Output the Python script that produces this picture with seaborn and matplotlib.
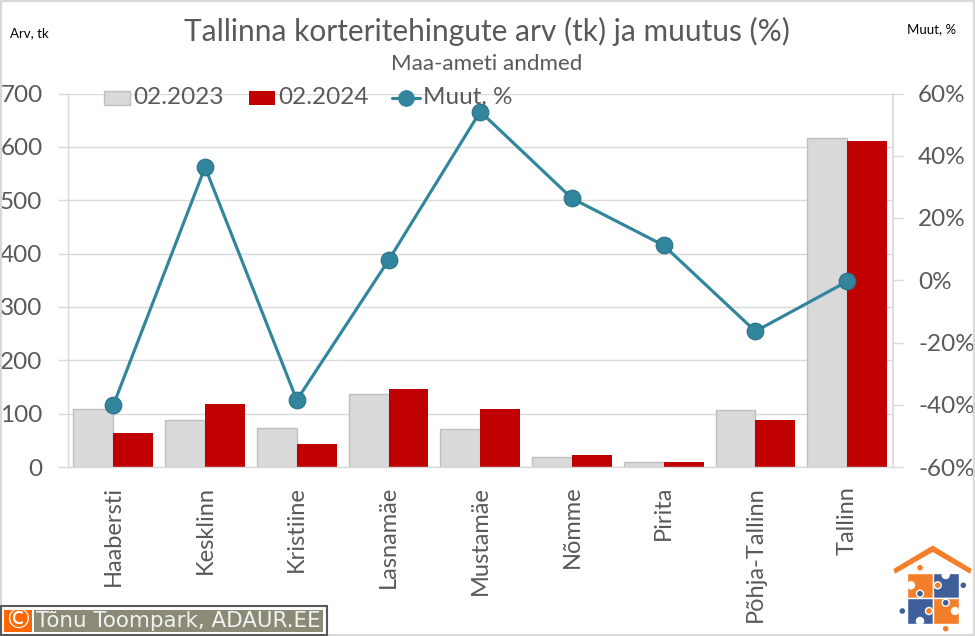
import matplotlib
matplotlib.use("Agg")
import matplotlib.pyplot as plt
from matplotlib.patches import Rectangle, Polygon, Circle
from matplotlib.lines import Line2D
import pandas as pd
import seaborn as sns

categories = ["Haabersti", "Kesklinn", "Kristiine", "Lasnamäe", "Mustamäe", "Nõmme", "Pirita", "Põhja-Tallinn", "Tallinn"]
values_2023 = [109, 89, 74, 137, 72, 19, 10, 107, 617]
values_2024 = [64, 119, 44, 147, 109, 23, 10, 89, 611]
change_pct = [-40.1, 36.3, -38.5, 6.4, 54.2, 26.3, 11.2, -16.4, -0.4]
left_ticks = [0, 100, 200, 300, 400, 500, 600, 700]
right_ticks = [-60, -40, -20, 0, 20, 40, 60]

GRAY = "#595959"
GRID = "#d9d9d9"
TEAL = "#31859c"
W, H = 975, 636

sns.set_theme(style="white")
plt.rcParams["font.family"] = ["Lato", "DejaVu Sans"]

fig = plt.figure(figsize=(W / 100, H / 100), dpi=100, facecolor="white")
ax = fig.add_axes([67.5 / W, 1 - 467 / H, (893 - 67.5) / W, (467 - 93.5) / H])

df = pd.DataFrame({"Linnaosa": categories * 2,
                   "Periood": ["02.2023"] * 9 + ["02.2024"] * 9,
                   "Arv": values_2023 + values_2024})
sns.barplot(data=df, x="Linnaosa", y="Arv", hue="Periood", order=categories,
            palette={"02.2023": "#d9d9d9", "02.2024": "#c00000"},
            width=0.87, gap=0, saturation=1, legend=False, ax=ax, zorder=2)
for i, cont in enumerate(ax.containers):
    for b in cont:
        if i == 0:
            b.set_edgecolor("#bfbfbf")
            b.set_linewidth(1)
        else:
            b.set_linewidth(0)

ax.set_xlim(-0.5, 8.5)
ax.set_ylim(0, 700)
ax.set_yticks(left_ticks)
ax.set_xlabel("")
ax.set_ylabel("")
ax.yaxis.grid(True, color=GRID, linewidth=1)
ax.set_axisbelow(True)
ax.tick_params(axis="y", left=True, length=7, width=1, color=GRID, labelsize=17.5, labelcolor=GRAY, pad=11)
ax.tick_params(axis="x", bottom=False, labelsize=17, labelcolor=GRAY, pad=7.5, rotation=90)
for s in ["top", "right"]:
    ax.spines[s].set_visible(False)
for s in ["left", "bottom"]:
    ax.spines[s].set_color(GRID)
    ax.spines[s].set_linewidth(1)

ax2 = ax.twinx()
sns.lineplot(x=categories, y=change_pct, ax=ax2, color=TEAL, linewidth=2.25,
             marker="o", markersize=12, markeredgecolor="#2a7086",
             markeredgewidth=0.8, sort=False, zorder=5)
ax2.set_xlim(-0.5, 8.5)
ax2.set_ylim(-60, 60)
ax2.set_yticks(right_ticks)
ax2.set_yticklabels([f"{t}%" for t in right_ticks])
ax2.set_ylabel("")
ax2.grid(False)
ax2.tick_params(axis="y", right=True, length=7, width=1, color=GRID, labelsize=17.5, labelcolor=GRAY, pad=11)
for s in ax2.spines.values():
    s.set_visible(False)
ax2.spines["right"].set_visible(True)
ax2.spines["right"].set_color(GRID)
ax2.patch.set_alpha(0)

def fx(x): return x / W
def fy(y): return 1 - y / H

fig.text(fx(487), fy(31), "Tallinna korteritehingute arv (tk) ja muutus (%)", ha="center", va="center", fontsize=21.5, color=GRAY)
fig.text(fx(487), fy(64), "Maa-ameti andmed", ha="center", va="center", fontsize=16.1, color=GRAY)
fig.text(fx(10), fy(33), "Arv, tk", ha="left", va="center", fontsize=9.5, color="black")
fig.text(fx(907), fy(29), "Muut, %", ha="left", va="center", fontsize=9.5, color="black")

# legend
fig.add_artist(Rectangle((fx(104), fy(105)), 26 / W, 14 / H, transform=fig.transFigure, fc="#d9d9d9", ec="#bfbfbf", lw=1, zorder=6))
fig.text(fx(133), fy(97), "02.2023", ha="left", va="center", fontsize=17.5, color=GRAY, zorder=6)
fig.add_artist(Rectangle((fx(249), fy(105)), 26 / W, 14 / H, transform=fig.transFigure, fc="#c00000", ec="none", zorder=6))
fig.text(fx(278), fy(97), "02.2024", ha="left", va="center", fontsize=17.5, color=GRAY, zorder=6)
fig.add_artist(Line2D([fx(392), fx(420)], [fy(98), fy(98)], transform=fig.transFigure, color=TEAL, lw=2.25, zorder=6))
fig.add_artist(Line2D([fx(406)], [fy(98)], transform=fig.transFigure, color=TEAL, marker="o", ms=11, zorder=6))
fig.text(fx(423), fy(97), "Muut, %", ha="left", va="center", fontsize=17.5, color=GRAY, zorder=6)

# outer border
fig.add_artist(Rectangle((0, 0), 1, 1, transform=fig.transFigure, fc="none", ec=GRID, lw=3, zorder=1))

# credit box
fig.add_artist(Rectangle((fx(1), fy(635)), 326 / W, 29 / H, transform=fig.transFigure, fc="white", ec="#595959", lw=1.5, zorder=7))
fig.add_artist(Rectangle((fx(4), fy(632)), 28 / W, 22 / H, transform=fig.transFigure, fc="#ff6600", ec="none", zorder=8))
fig.add_artist(Rectangle((fx(34), fy(632)), 289 / W, 22 / H, transform=fig.transFigure, fc="#8a8a76", ec="none", zorder=8))
fig.text(fx(18), fy(621), "©", ha="center", va="center", fontsize=20, color="white", family="DejaVu Sans", zorder=9)
fig.text(fx(36), fy(621), "Tõnu Toompark, ADAUR.EE", ha="left", va="center", fontsize=15.4, color="#f2f2f2", family="DejaVu Sans", zorder=9)

# logo
logo = fig.add_axes([892 / W, 1 - 636 / H, 83 / W, 91 / H])
logo.set_xlim(892, 975)
logo.set_ylim(636, 545)
logo.axis("off")
ORANGE = "#f47f2a"
BLUE = "#3f5f9a"
logo.add_patch(Polygon([(893.3, 569), (932.7, 545.5), (971.7, 569), (970, 573.7), (932.7, 552), (895, 573.7)], fc=ORANGE, ec="none"))
logo.add_patch(Rectangle((906.7, 572.7), 26, 25.3, fc=ORANGE))
logo.add_patch(Rectangle((932.7, 572.7), 26.3, 25.3, fc=BLUE))
logo.add_patch(Rectangle((906.7, 598), 26, 25.7, fc=BLUE))
logo.add_patch(Rectangle((932.7, 598), 26.3, 25.7, fc=ORANGE))
for (x, y) in [(911, 585.3), (945.7, 575), (955, 611), (920, 621)]:
    logo.add_patch(Circle((x, y), 3.5, fc="white"))
for (x, y, c) in [(920, 567.7, ORANGE), (963.3, 585.3, BLUE), (902.3, 611, BLUE), (945.7, 628.7, ORANGE),
                  (920, 593.7, BLUE), (937.7, 585.3, ORANGE), (945.7, 602.7, BLUE), (929, 611, ORANGE)]:
    logo.add_patch(Circle((x, y), 3.5, fc=c))

fig.savefig("out.png", dpi=100)
